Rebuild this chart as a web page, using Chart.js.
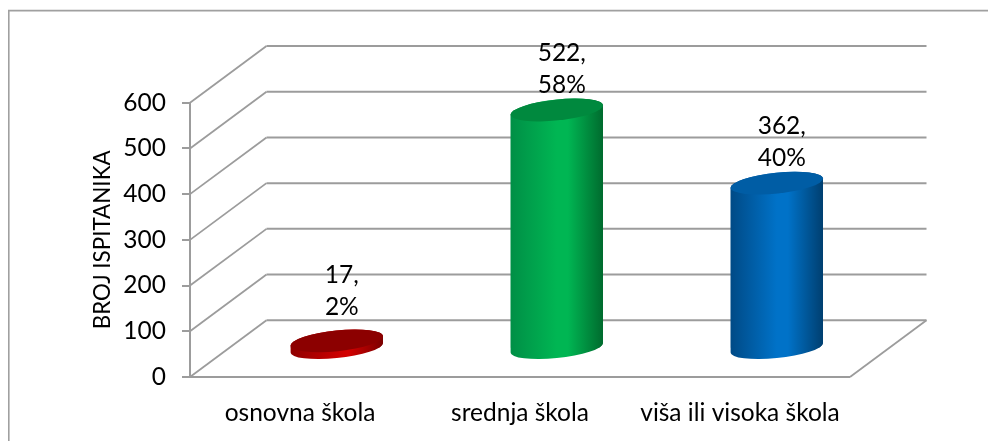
<!DOCTYPE html>
<html>
<head>
<meta charset="utf-8">
<style>html,body{margin:0;padding:0;background:#fff}canvas{display:block}</style>
<script src="https://cdn.jsdelivr.net/npm/chart.js@4"></script>
</head>
<body>
<canvas id="c" width="988" height="441"></canvas>
<script>
const categories = ['osnovna škola', 'srednja škola', 'viša ili visoka škola'];
const counts = [17, 522, 362];
const shares = ['2%', '58%', '40%'];
const yTitle = 'BROJ ISPITANIKA';
const sideStops = [
  ['#8e0000', '#c90000', '#d40000', '#7a0000'],
  ['#008f46', '#00b653', '#00b653', '#006b2e'],
  ['#004a86', '#0072c8', '#0072c8', '#003f70']
];
const capColors = ['#8c0000', '#00893e', '#005da5'];

const FONT = 'Lato, "Open Sans", sans-serif';
const GRID = '#9c9c9c';
const DX = 76.5, DY = -56.7;            // depth of the 3D box
const BAR_DX = 36.8;                    // bars stand mid-depth
const BAR_FRAC = 0.42;
const CAP_B = 10.4, THETA = -6 * Math.PI / 180;

function capA(w) { return w / 2 * 1.005; }
function silhouette(ctx, x, top, base, a) {
  const t0 = Math.atan2(-CAP_B * Math.sin(THETA), a * Math.cos(THETA));
  const lx = x + a * Math.cos(t0 + Math.PI) * Math.cos(THETA) - CAP_B * Math.sin(t0 + Math.PI) * Math.sin(THETA);
  const ly = top + a * Math.cos(t0 + Math.PI) * Math.sin(THETA) + CAP_B * Math.sin(t0 + Math.PI) * Math.cos(THETA);
  ctx.moveTo(lx, ly);
  ctx.ellipse(x, top, a, CAP_B, THETA, t0 + Math.PI, t0 + 2 * Math.PI);
  ctx.ellipse(x, base, a, CAP_B, THETA, t0, t0 + Math.PI);
  ctx.closePath();
}
function sideGradient(ctx, x, w, i) {
  const g = ctx.createLinearGradient(x - w / 2, 0, x + w / 2, 0);
  const s = sideStops[i];
  g.addColorStop(0, s[0]); g.addColorStop(0.5, s[1]); g.addColorStop(0.62, s[2]); g.addColorStop(1, s[3]);
  return g;
}

const box3d = {
  id: 'box3d',
  beforeDraw(chart) {
    const { ctx } = chart;
    ctx.save();
    ctx.strokeStyle = '#a0a0a0'; ctx.lineWidth = 1.6;
    ctx.beginPath(); ctx.moveTo(8.8, 441); ctx.lineTo(8.8, 10.6); ctx.lineTo(988, 10.6); ctx.stroke();
    ctx.restore();
  },
  beforeDatasetsDraw(chart) {
    const { ctx, chartArea: a, scales: { y } } = chart;
    ctx.save();
    ctx.strokeStyle = GRID; ctx.lineJoin = 'miter';
    y.ticks.forEach(t => {
      const py = y.getPixelForValue(t.value);
      ctx.lineWidth = 1.8;
      ctx.beginPath(); ctx.moveTo(a.left, py); ctx.lineTo(a.left + DX, py + DY); ctx.stroke();
      ctx.lineWidth = 2;
      ctx.beginPath(); ctx.moveTo(a.left + DX, py + DY); ctx.lineTo(a.right + DX, py + DY); ctx.stroke();
    });
    const b = y.getPixelForValue(0);
    ctx.lineWidth = 1.8;
    ctx.beginPath(); ctx.moveTo(a.right, b); ctx.lineTo(a.right + DX, b + DY); ctx.stroke();
    ctx.lineWidth = 2;
    ctx.beginPath(); ctx.moveTo(a.left - 8, b); ctx.lineTo(a.right, b); ctx.stroke();
    ctx.restore();
  },
  beforeDatasetDraw(chart, args) {
    const { ctx } = chart;
    const meta = chart.getDatasetMeta(args.index);
    ctx.save();
    ctx.translate(BAR_DX, DY / 2);
    meta.data.forEach((el, i) => {
      const p = el.getProps(['x', 'y', 'base', 'width'], true);
      ctx.fillStyle = sideGradient(ctx, p.x, p.width, i);
      ctx.beginPath();
      silhouette(ctx, p.x, p.y, p.base, capA(p.width));
      ctx.fill();
    });
    ctx.beginPath();
    meta.data.forEach(el => {
      const p = el.getProps(['x', 'y', 'base', 'width'], true);
      silhouette(ctx, p.x, p.y, p.base, capA(p.width));
    });
    ctx.clip();
  },
  afterDatasetDraw(chart, args) {
    const { ctx } = chart;
    ctx.restore();
    const meta = chart.getDatasetMeta(args.index);
    ctx.save();
    ctx.translate(BAR_DX, DY / 2);
    meta.data.forEach((el, i) => {
      const p = el.getProps(['x', 'y', 'base', 'width'], true);
      ctx.fillStyle = capColors[i];
      ctx.beginPath();
      ctx.ellipse(p.x, p.y, capA(p.width), CAP_B, THETA, 0, Math.PI * 2);
      ctx.fill();
      ctx.fillStyle = '#000';
      ctx.font = '24.5px ' + FONT;
      ctx.textAlign = 'center'; ctx.textBaseline = 'middle';
      const gap = counts[i] < 50 ? 34 : 25;
      ctx.fillText(counts[i] + ',', p.x + 5, p.y - gap - 32);
      ctx.fillText(shares[i], p.x + 5, p.y - gap);
    });
    ctx.restore();
  }
};

new Chart(document.getElementById('c'), {
  type: 'bar',
  data: {
    labels: categories,
    datasets: [{
      data: counts,
      clip: false,
      categoryPercentage: BAR_FRAC,
      barPercentage: 1,
      borderWidth: 0,
      backgroundColor(c) {
        const x = c.chart.scales.x;
        if (!x || c.dataIndex === undefined) return '#888';
        const px = x.getPixelForValue(c.dataIndex);
        const w = x.width / 3 * BAR_FRAC;
        if (!isFinite(px) || !isFinite(w)) return '#888';
        return sideGradient(c.chart.ctx, px, w, c.dataIndex);
      }
    }]
  },
  options: {
    responsive: false,
    animation: false,
    layout: { padding: { top: 102.7, right: 138, left: 0, bottom: 0 } },
    plugins: { legend: { display: false }, tooltip: { enabled: false }, title: { display: false } },
    scales: {
      x: {
        afterFit(s) { s.height = 64; },
        grid: { display: false, drawTicks: false },
        border: { display: false },
        ticks: { color: '#000', padding: 21, maxRotation: 0, minRotation: 0, autoSkip: false, font: { family: FONT, size: 24.5 } }
      },
      y: {
        min: 0, max: 600,
        afterFit(s) { s.width = 190; },
        grid: { drawOnChartArea: false, drawTicks: true, tickLength: 8, color: GRID, lineWidth: 2 },
        border: { display: true, color: GRID, width: 2 },
        ticks: { stepSize: 100, color: '#000', padding: 16, font: { family: FONT, size: 24.5 } },
        title: { display: true, text: yTitle, color: '#000', padding: { top: 89, bottom: 0 }, font: { family: FONT, size: 22.4, weight: 'normal' } }
      }
    }
  },
  plugins: [box3d]
});
</script>
</body>
</html>
